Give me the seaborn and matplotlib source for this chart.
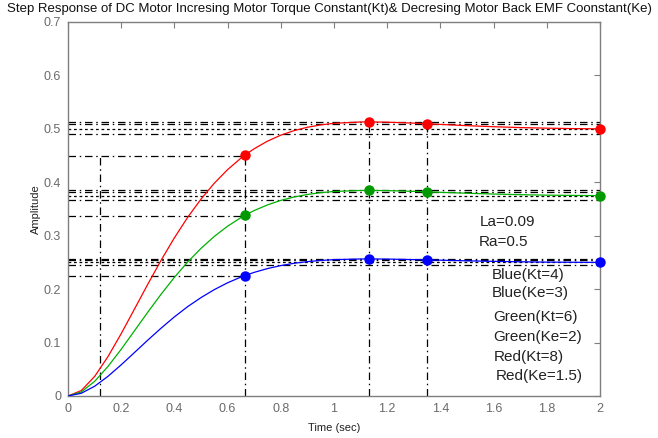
import matplotlib
matplotlib.use("Agg")
import matplotlib.pyplot as plt
import seaborn as sns
import pandas as pd

# ---------------- data ----------------
time = [0, 0.05, 0.1, 0.15, 0.2, 0.25, 0.3, 0.35, 0.4, 0.45, 0.5, 0.55, 0.6, 0.65,
        0.665, 0.7, 0.75, 0.8, 0.85, 0.9, 0.95, 1.0, 1.1, 1.13, 1.2, 1.3, 1.35, 1.4,
        1.5, 1.6, 1.7, 1.8, 1.9, 2.0]
red_resp = [0, .0102, .0365, .0735, .1167, .1628, .2092, .2541, .2961, .3345, .3685,
            .3983, .4237, .4452, .4508, .4628, .4770, .4882, .4967, .5030, .5074,
            .5104, .5129, .5130, .5125, .5107, .5095, .5083, .5060, .5040, .5024,
            .5013, .5005, .5000]
green_resp = [0, .0076, .0273, .0551, .0875, .1221, .1569, .1905, .2221, .2509, .2763,
              .2987, .3178, .3339, .3381, .3471, .3577, .3661, .3725, .3772, .3806,
              .3828, .3847, .3848, .3844, .3830, .3821, .3812, .3795, .3780, .3768,
              .3759, .3754, .3750]
blue_resp = [0, .0051, .0182, .0367, .0584, .0814, .1046, .1270, .1481, .1673, .1842,
             .1991, .2119, .2226, .2254, .2314, .2385, .2441, .2484, .2515, .2537,
             .2552, .2565, .2565, .2563, .2553, .2548, .2542, .2530, .2520, .2512,
             .2506, .2503, .2500]
series_names = ["Red", "Green", "Blue"]

ten_pct_time = 0.12
rise_time = 0.665
peak_time = 1.13
settle_time = 1.35
end_time = 2.0

x_ticks = [0, 0.2, 0.4, 0.6, 0.8, 1.0, 1.2, 1.4, 1.6, 1.8, 2.0]
x_tick_labels = ["0", "0.2", "0.4", "0.6", "0.8", "1", "1.2", "1.4", "1.6", "1.8", "2"]
y_ticks = [0, 0.1, 0.2, 0.3, 0.4, 0.5, 0.6, 0.7]
y_tick_labels = ["0", "0.1", "0.2", "0.3", "0.4", "0.5", "0.6", "0.7"]

title_text = ("Step Response of DC Motor Incresing Motor Torque Constant(Kt)& "
              "Decresing Motor Back EMF Coonstant(Ke)")
x_label = "Time (sec)"
y_label = "Amplitude"
param_labels = ["La=0.09", "Ra=0.5"]
legend_labels = ["Blue(Kt=4)", "Blue(Ke=3)", "Green(Kt=6)", "Green(Ke=2)",
                 "Red(Kt=8)", "Red(Ke=1.5)"]

# ---------------- styling ----------------
sns.set_style("white")
plt.rcParams["font.family"] = ["Liberation Sans", "DejaVu Sans"]

colors = {"Red": "#ff0000", "Green": "#00b000", "Blue": "#0000ff"}
gray = "#7f7f7f"
DASHDOT = (0, (6, 3, 1.2, 3))
DOTTED = (0, (2.2, 2.2))

W, H = 658, 438
fig = plt.figure(figsize=(W / 100, H / 100), dpi=100)
ax = fig.add_axes([68 / W, (H - 396) / H, (600 - 68) / W, (396 - 22) / H])

df = pd.DataFrame({
    "t": time * 3,
    "v": red_resp + green_resp + blue_resp,
    "series": ["Red"] * len(time) + ["Green"] * len(time) + ["Blue"] * len(time),
})

resp = {"Red": red_resp, "Green": green_resp, "Blue": blue_resp}

# annotation lines (black)
lk = dict(color="black", lw=0.9, zorder=1)
for name in series_names:
    vals = resp[name]
    final = vals[-1]
    peak = max(vals)
    ax.plot([0, end_time], [peak, peak], ls=DASHDOT, **lk)
    ax.plot([0, end_time], [1.02 * final, 1.02 * final], ls=DASHDOT, **lk)
    ax.plot([0, end_time], [final, final], ls=DOTTED, **lk)
    ax.plot([0, end_time], [0.98 * final, 0.98 * final], ls=DASHDOT, **lk)
    ax.plot([0, rise_time], [0.9 * final, 0.9 * final], ls=DASHDOT, **lk)

red_final = red_resp[-1]
ax.plot([ten_pct_time, ten_pct_time], [0, 0.9 * red_final], ls=DASHDOT, **lk)
ax.plot([rise_time, rise_time], [0, 0.9 * red_final], ls=DASHDOT, **lk)
ax.plot([peak_time, peak_time], [0, max(red_resp)], ls=DASHDOT, **lk)
ax.plot([settle_time, settle_time], [0, 1.02 * red_final], ls=DASHDOT, **lk)

sns.lineplot(data=df, x="t", y="v", hue="series", palette=colors, legend=False,
             sort=False, estimator=None, lw=0.9, ax=ax, zorder=3)

# characteristic points
dot_colors = {"Red": "#ff0000", "Green": "#009a00", "Blue": "#0000ff"}
for name in series_names:
    vals = resp[name]
    pts_t = [rise_time, peak_time, settle_time, end_time]
    pts_v = [vals[time.index(tt)] for tt in pts_t]
    ax.plot(pts_t, pts_v, ls="none", marker="o", ms=6.5, color=dot_colors[name],
            mec=dot_colors[name], zorder=4, clip_on=False)

ax.set_xlim(0, 2)
ax.set_ylim(0, 0.7)
ax.set_xticks(x_ticks)
ax.set_xticklabels(x_tick_labels)
ax.set_yticks(y_ticks)
ax.set_yticklabels(y_tick_labels)
ax.tick_params(direction="in", length=4, width=0.8, color=gray, labelcolor="#6a6a6a",
               labelsize=9, top=True, right=True, pad=5)
for sp in ax.spines.values():
    sp.set_color(gray)
    sp.set_linewidth(1.0)
ax.set_xlabel(x_label, fontsize=8, color="#222222", labelpad=6)
ax.set_ylabel(y_label, fontsize=8, color="#222222", labelpad=2)

# title fitted to the figure width
ttl = fig.text(329 / W, 1 - 9 / H, title_text, ha="center", va="center",
               fontsize=9, color="#111111")
fig.canvas.draw()
wpx = ttl.get_window_extent().width
ttl.set_fontsize(9 * 650 / wpx)

# text labels
txt_kw = dict(fontsize=11, color="#222222", va="center", ha="left")
ax.text(1.549, 0.326, param_labels[0], **txt_kw)
ax.text(1.544, 0.288, param_labels[1], **txt_kw)
label_pos = [(1.594, 0.226), (1.594, 0.192), (1.600, 0.148), (1.600, 0.110),
             (1.602, 0.073), (1.609, 0.037)]
for (xx, yy), s in zip(label_pos, legend_labels):
    ax.text(xx, yy, s, **txt_kw)

fig.savefig("out.png", dpi=100)
